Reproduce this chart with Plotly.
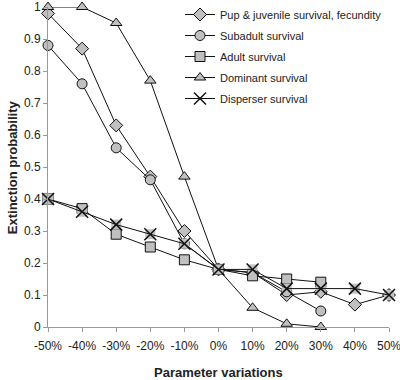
import plotly.graph_objects as go

categories = ["-50%", "-40%", "-30%", "-20%", "-10%", "0%", "10%", "20%", "30%", "40%", "50%"]
pup = [0.98, 0.87, 0.63, 0.47, 0.30, 0.18, 0.17, 0.10, 0.11, 0.07, 0.10]
subadult = [0.88, 0.76, 0.56, 0.46, 0.26, 0.18, 0.17, 0.11, 0.05]
adult = [0.40, 0.37, 0.29, 0.25, 0.21, 0.18, 0.16, 0.15, 0.14]
dominant = [1.0, 1.0, 0.95, 0.77, 0.47, 0.18, 0.06, 0.01, 0.0]
disperser = [0.40, 0.36, 0.32, 0.29, 0.26, 0.18, 0.18, 0.12, 0.12, 0.12, 0.10]
y_tickvals = [0, 0.1, 0.2, 0.3, 0.4, 0.5, 0.6, 0.7, 0.8, 0.9, 1.0]
y_ticktext = ["0", "0.1", "0.2", "0.3", "0.4", "0.5", "0.6", "0.7", "0.8", "0.9", "1"]

GRAY = "#c0c0c0"
BLK = "#111111"

fig = go.Figure()

def add(name, vals, symbol, size, grp):
    fig.add_trace(go.Scatter(
        x=categories[:len(vals)], y=vals, name=name, mode="lines+markers",
        legendgroup=grp,
        line=dict(color=BLK, width=1),
        marker=dict(symbol=symbol, size=size, color=GRAY, line=dict(color=BLK, width=1)),
        cliponaxis=False,
    ))

add("Pup &amp; juvenile survival, fecundity", pup, "diamond", 10, "g1")
add("Subadult survival", subadult, "circle", 10, "g2")
add("Adult survival", adult, "square", 10, "g3")
add("Dominant survival", dominant, "triangle-up", 10, "g4")

# gray backdrop for disperser X markers
fig.add_trace(go.Scatter(
    x=categories[:len(disperser)], y=disperser, mode="markers", showlegend=False,
    legendgroup="g5",
    marker=dict(symbol="square", size=10, color=GRAY, line=dict(width=0)),
    cliponaxis=False, hoverinfo="skip",
))
fig.add_trace(go.Scatter(
    x=categories[:len(disperser)], y=disperser, name="Disperser survival", mode="lines+markers",
    legendgroup="g5",
    line=dict(color=BLK, width=1),
    marker=dict(symbol="x-thin-open", size=12, color=BLK, line=dict(color=BLK, width=1.5)),
    cliponaxis=False,
))

fig.update_layout(
    width=400, height=380,
    margin=dict(l=48, r=11, t=7, b=53, autoexpand=False),
    paper_bgcolor="white", plot_bgcolor="white",
    font=dict(family="Liberation Sans, Arial, sans-serif", size=12, color="#222222"),
    showlegend=True,
    legend=dict(x=0.45, y=1.008, xref="container", yref="container",
                xanchor="left", yanchor="top", traceorder="grouped",
                bgcolor="rgba(255,255,255,0)", font=dict(size=11),
                itemwidth=30, tracegroupgap=2),
    annotations=[
        dict(text="<b>Extinction probability</b>", textangle=-90,
             xref="paper", yref="paper", x=-0.105, y=0.5,
             xanchor="center", yanchor="middle", showarrow=False,
             font=dict(size=13, color="#222222")),
        dict(text="<b>Parameter variations</b>",
             xref="paper", yref="paper", x=0.5, y=-0.143,
             xanchor="center", yanchor="middle", showarrow=False,
             font=dict(size=13, color="#222222")),
    ],
)
fig.update_xaxes(
    type="category", range=[0, 10], showgrid=False, zeroline=False,
    showline=True, linecolor="#999999", linewidth=1,
    ticks="outside", ticklen=4, tickcolor="#999999", automargin=False,
    ticklabelstandoff=4, ticklabeloverflow="allow",
)
fig.update_yaxes(
    range=[0, 1.0001], tickvals=y_tickvals, ticktext=y_ticktext,
    showgrid=False, zeroline=False,
    showline=True, linecolor="#999999", linewidth=1,
    ticks="outside", ticklen=4, tickcolor="#999999", automargin=False,
    ticklabeloverflow="allow",
)

fig.write_html("out.html", config={"displayModeBar": False},
               post_script="document.body.style.margin='0';")
